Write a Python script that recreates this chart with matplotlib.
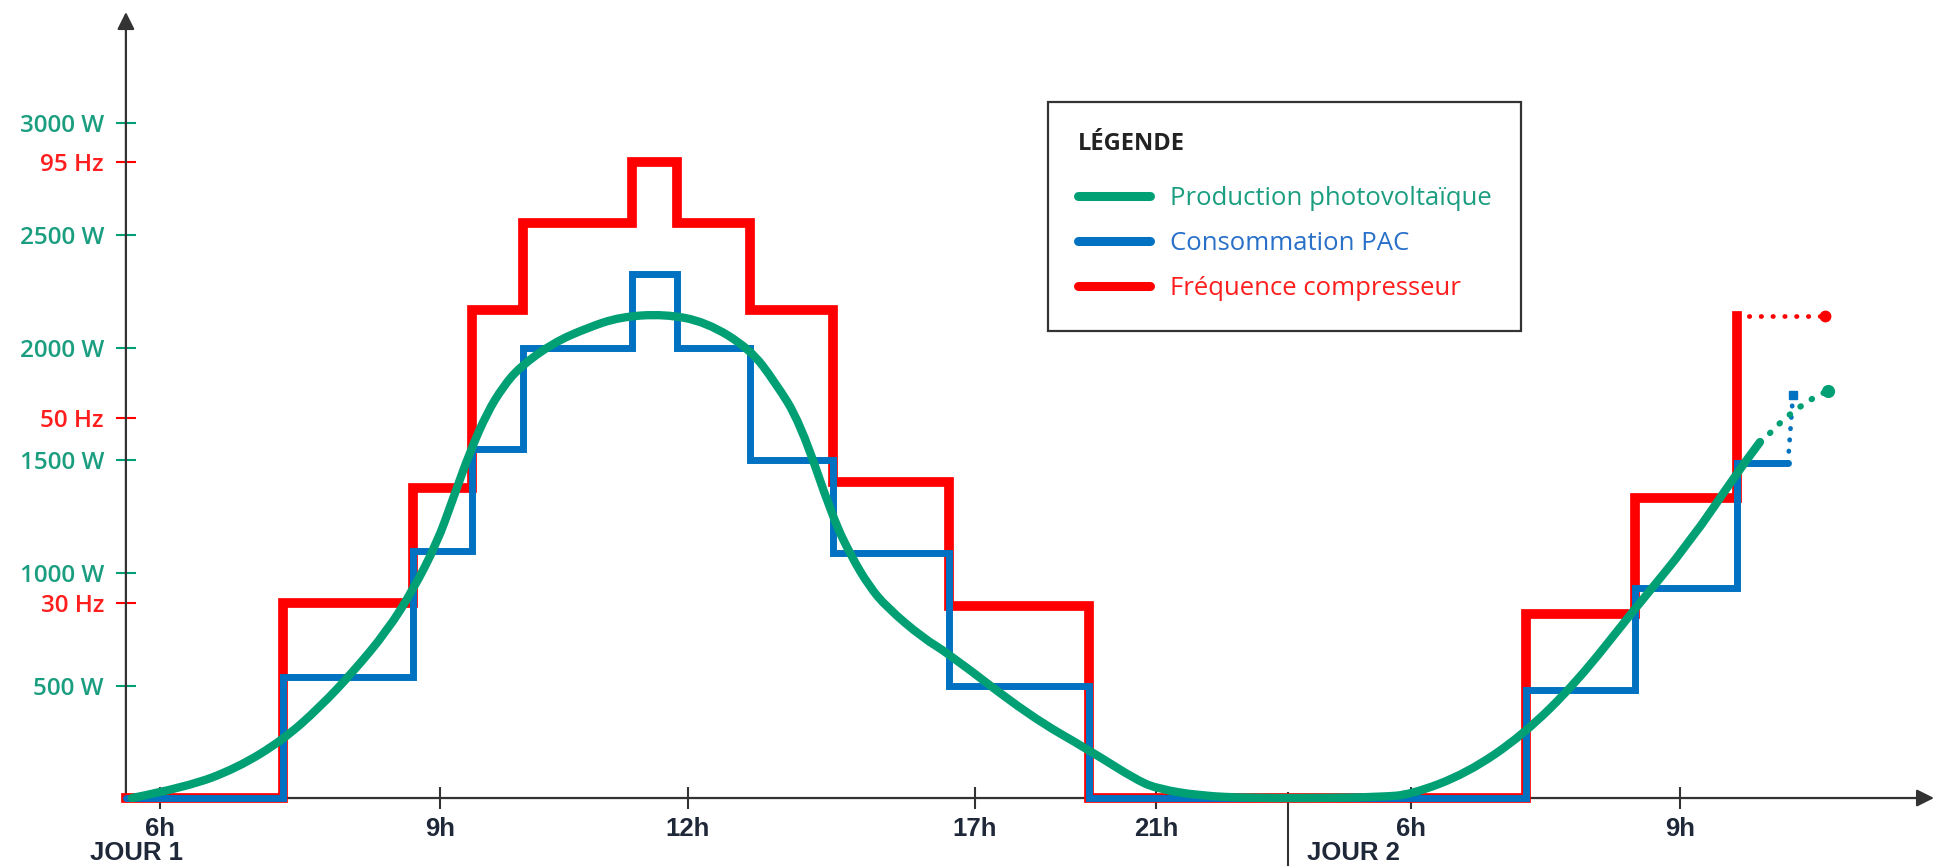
import numpy as np
import matplotlib
matplotlib.use('Agg')
import matplotlib.pyplot as plt
from matplotlib.lines import Line2D
from matplotlib.path import Path
from matplotlib.patches import PathPatch

# schematic time axis (not to scale): tick positions and labels
tick_pos = [0.34, 3.14, 5.62, 8.49, 10.30, 12.85, 15.54]
tick_lab = ['6h', '9h', '12h', '17h', '21h', '6h', '9h']
jour1_pos = -0.36
day2_pos = 11.62

# y scale in W, with the Hz ticks placed on it
watt_ticks = [500, 1000, 1500, 2000, 2500, 3000]
hz_ticks = [30, 50, 95]
hz_pos = [867, 1691, 2828]

# compressor frequency (Hz), steps
freq_x = [0, 1.57, 2.87, 3.46, 3.97, 5.06, 5.51, 6.24, 7.07, 8.23, 9.63, 14.00, 15.09, 16.11]
freq_hz = [0, 30, 42.4, 68.9, 84.2, 95, 84.2, 68.9, 43, 29.6, 0, 28.3, 41.3, 67.8]
freq_next_x = [16.11, 16.99]
freq_next_hz = [67.8, 67.8]

# heat pump consumption (W), steps
pac_x = [0, 1.57, 2.87, 3.46, 3.97, 5.06, 5.51, 6.24, 7.07, 8.23, 9.63, 14.00, 15.09, 16.11, 16.62]
pac_w = [0, 540, 1100, 1550, 2000, 2330, 2000, 1500, 1090, 500, 0, 480, 935, 1490, 1490]
pac_next_x = [16.62, 16.67]
pac_next_w = [1490, 1791]

# PV production (W)
pv_x = [0.06, 0.61, 1.11, 1.57, 1.94, 2.27, 2.61, 2.87, 3.11, 3.27, 3.44, 3.61, 3.77, 3.94,
        4.27, 4.61, 4.94, 5.38, 5.80, 6.24, 6.49, 6.74, 7.07, 7.25, 7.43, 7.61, 7.97, 8.22,
        9.04, 9.63, 10.12, 10.33, 10.74, 11.24, 12.00, 12.54, 12.85, 13.41, 13.97, 14.51,
        15.07, 15.64, 16.11, 16.34]
pv_w = [0, 49, 133, 258, 404, 560, 742, 924, 1133, 1329, 1538, 1711, 1827, 1916,
        2022, 2089, 2138, 2151, 2116, 1996, 1849, 1671, 1244, 1077, 942, 847, 711, 644,
        364, 213, 76, 40, 10, 0, 0, 5, 15, 110, 280, 516,
        831, 1138, 1444, 1582]
pv_next_x = [16.34, 16.44, 16.53, 16.62, 16.71, 16.81, 16.91, 17.02]
pv_next_w = [1582, 1622, 1662, 1698, 1729, 1760, 1787, 1809]

GREEN = '#00a074'
BLUE = '#0072c1'
RED = '#ff0000'
GREEN_TXT = '#1b9e80'
RED_TXT = '#ff1e1e'
DARK = '#333333'
NAVY = '#1f2838'


def hz_to_w(v):
    return np.interp(v, [0] + hz_ticks, [0] + hz_pos)


def smooth_path(xs, ys):
    # quadratic bezier through the midpoints, read points as control points
    pts = np.column_stack([xs, ys])
    verts = [pts[0]]
    codes = [Path.MOVETO]
    for i in range(1, len(pts) - 1):
        verts += [pts[i], (pts[i] + pts[i + 1]) / 2]
        codes += [Path.CURVE3, Path.CURVE3]
    verts.append(pts[-1])
    codes.append(Path.LINETO)
    return Path(verts, codes)


fig = plt.figure(figsize=(19.34, 8.66), dpi=100)
ax = fig.add_axes([0.0651, 0.0785, 0.9349, 0.9076])
ax.set_xlim(0, 18.08)
ax.set_ylim(0, 3493)
for s in ax.spines.values():
    s.set_visible(False)

# axes with arrows
arr = dict(arrowstyle='-|>', color=DARK, lw=1.6, mutation_scale=26, shrinkA=0, shrinkB=0)
ax.annotate('', xy=(1, 0), xytext=(0, 0), xycoords='axes fraction', arrowprops=arr)
ax.annotate('', xy=(0, 1), xytext=(0, 0), xycoords='axes fraction', arrowprops=arr)

# series
ax.step(freq_x, hz_to_w(freq_hz), where='post', color=RED, lw=7.0, clip_on=False,
        solid_joinstyle='miter', zorder=3)
ax.plot(freq_next_x, hz_to_w(freq_next_hz), color=RED, lw=3.4, ls=(0, (0.1, 2.4)),
        dash_capstyle='round', clip_on=False, zorder=3)
ax.plot(freq_next_x[-1:], hz_to_w(freq_next_hz[-1:]), 'o', color=RED, ms=7.5, zorder=3)

ax.step(pac_x, pac_w, where='post', color=BLUE, lw=5.0, clip_on=False,
        solid_joinstyle='miter', solid_capstyle='round', zorder=4)
ax.plot(pac_next_x, pac_next_w, color=BLUE, lw=3.4, ls=(0, (0.1, 2.3)),
        dash_capstyle='round', zorder=4)
ax.plot(pac_next_x[-1:], pac_next_w[-1:], 's', color=BLUE, ms=6, zorder=4)

ax.add_patch(PathPatch(smooth_path(pv_x, pv_w), fill=False, edgecolor=GREEN, lw=6.0,
                       capstyle='round', joinstyle='round', clip_on=False, zorder=5))
ax.plot(pv_next_x, pv_next_w, color=GREEN, lw=4.4, ls=(0, (0.1, 2.1)),
        dash_capstyle='round', zorder=5)
ax.plot(pv_next_x[-1:], pv_next_w[-1:], 'o', color=GREEN, ms=8.5, zorder=5)

# y ticks: W major, Hz minor
ax.set_yticks(watt_ticks, labels=['%d W' % v for v in watt_ticks])
ax.set_yticks(hz_pos, labels=['%d Hz' % v for v in hz_ticks], minor=True)
ax.tick_params(axis='y', which='major', direction='inout', length=13.7, width=1.5,
               pad=9, colors=GREEN, labelcolor=GREEN_TXT)
ax.tick_params(axis='y', which='minor', direction='inout', length=13.7, width=1.5,
               pad=9, colors=RED, labelcolor=RED_TXT)
for lab in ax.get_yticklabels(which='both'):
    lab.set_fontfamily(['Open Sans', 'DejaVu Sans'])
    lab.set_fontweight('semibold')
    lab.set_fontsize(17.5)

# x ticks
ax.set_xticks(tick_pos, labels=tick_lab)
ax.tick_params(axis='x', direction='inout', length=15.8, width=1.5, pad=5.5,
               colors=DARK, labelcolor=NAVY)
for lab in ax.get_xticklabels():
    lab.set_fontfamily(['Liberation Sans', 'DejaVu Sans'])
    lab.set_fontweight('bold')
    lab.set_fontsize(18.5)

# day labels and separator
tr = ax.get_xaxis_transform()
ax.plot([day2_pos, day2_pos], [0.007, -0.09], color=DARK, lw=1.5, transform=tr, clip_on=False)
ax.text(jour1_pos, -0.07, 'JOUR 1', transform=tr, ha='left', va='center', color=NAVY,
        fontsize=18.5, fontweight='bold', family=['Liberation Sans', 'DejaVu Sans'])
ax.text(day2_pos + 0.19, -0.07, 'JOUR 2', transform=tr, ha='left', va='center', color=NAVY,
        fontsize=18.5, fontweight='bold', family=['Liberation Sans', 'DejaVu Sans'])

# legend
handles = [Line2D([], [], color=c, lw=6.5, solid_capstyle='round') for c in (GREEN, BLUE, RED)]
leg = fig.legend(handles, ['Production photovoltaïque', 'Consommation PAC', 'Fréquence compresseur'],
                 loc='upper left', bbox_to_anchor=(0.5419, 0.8822), borderaxespad=0,
                 prop={'family': ['Open Sans', 'DejaVu Sans'], 'size': 18.5},
                 labelcolor=[GREEN_TXT, '#2870c8', RED_TXT],
                 title='LÉGENDE', alignment='left',
                 title_fontproperties={'family': ['Open Sans', 'DejaVu Sans'], 'weight': 'bold', 'size': 17},
                 handlelength=2.8, handletextpad=0.8, borderpad=1.15, labelspacing=0.78,
                 fancybox=False, framealpha=1, edgecolor=DARK)
leg.get_frame().set_linewidth(1.6)
leg.get_title().set_color('#222222')
leg._legend_box.sep = 22

fig.savefig('out.png', dpi=100)
